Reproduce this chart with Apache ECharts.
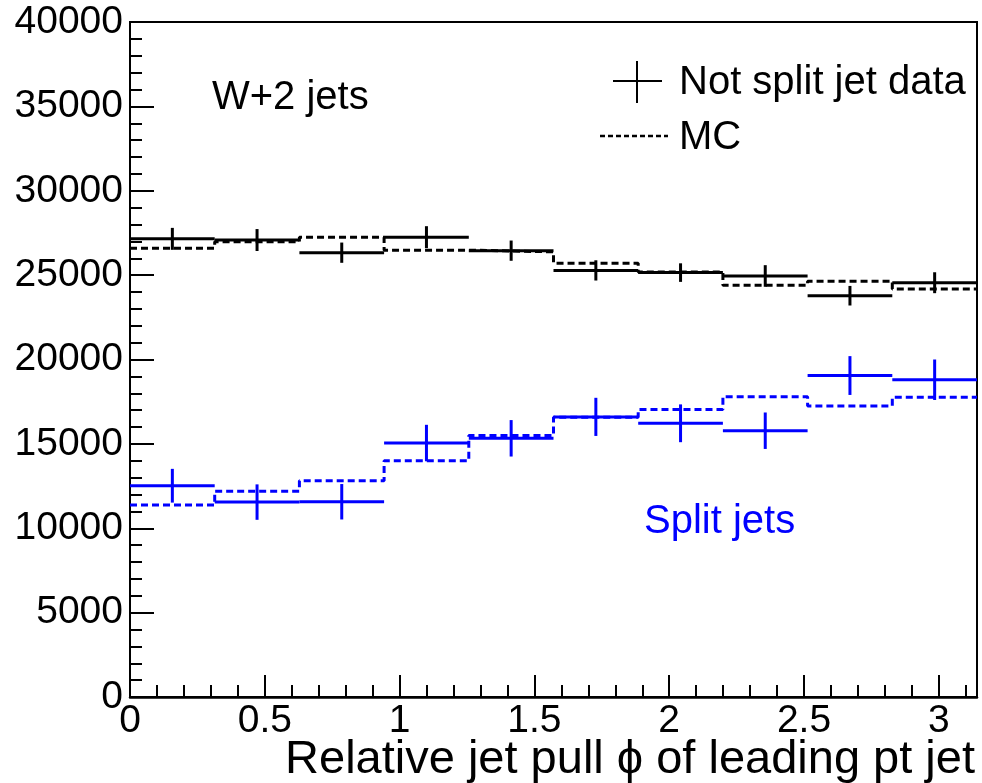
<!DOCTYPE html>
<html>
<head>
<meta charset="utf-8">
<script src="https://cdn.jsdelivr.net/npm/echarts@6/dist/echarts.min.js"></script>
<style>
html,body{margin:0;padding:0;background:#fff;}
#chart{width:982px;height:783px;}
</style>
</head>
<body>
<div id="chart"></div>
<script>
// Bin edges (10 bins over 0..pi)
var binLow  = [0, 0.31416, 0.62832, 0.94248, 1.25664, 1.5708, 1.88496, 2.19911, 2.51327, 2.82743];
var binHigh = [0.31416, 0.62832, 0.94248, 1.25664, 1.5708, 1.88496, 2.19911, 2.51327, 2.82743, 3.14159];

// Not split jets (black)
var notSplitData = [27150, 27080, 26330, 27250, 26450, 25280, 25150, 24950, 23780, 24550];
var notSplitErr  = [650, 650, 600, 650, 600, 600, 550, 640, 580, 620];
var notSplitMC   = [26600, 26980, 27250, 26480, 26380, 25700, 25180, 24400, 24640, 24180];

// Split jets (blue)
var splitData = [12520, 11550, 11570, 15050, 15330, 16600, 16220, 15780, 19050, 18800];
var splitErr  = [1000, 1050, 1050, 1080, 1080, 1130, 1120, 1080, 1150, 1200];
var splitMC   = [11380, 12200, 12820, 14000, 15500, 16580, 17040, 17800, 17250, 17760];

var yTicks = [0, 5000, 10000, 15000, 20000, 25000, 30000, 35000, 40000];

var FONT = 'Liberation Sans';
var FS_TICK = 39;
var FS_TEXT = 40;
var FS_TITLE = 47;

function dataRows(vals, errs) {
  return vals.map(function (v, i) { return [binLow[i], binHigh[i], v, errs[i]]; });
}
function stepRows(vals) {
  var rows = vals.map(function (v, i) { return [binLow[i], v]; });
  rows.push([binHigh[binHigh.length - 1], vals[vals.length - 1]]);
  return rows;
}
function makeRender(color) {
  return function (params, api) {
    var lo = api.value(0), hi = api.value(1), y = api.value(2), e = api.value(3);
    var a = api.coord([lo, y]), b = api.coord([hi, y]);
    var mid = (lo + hi) / 2;
    var t = api.coord([mid, y + e]), d = api.coord([mid, y - e]);
    var st = { stroke: color, lineWidth: 3 };
    return {
      type: 'group',
      children: [
        { type: 'line', shape: { x1: a[0], y1: a[1], x2: b[0], y2: b[1] }, style: st },
        { type: 'line', shape: { x1: t[0], y1: t[1], x2: d[0], y2: d[1] }, style: st }
      ]
    };
  };
}
function txt(str, x, y, size, color, align) {
  return {
    type: 'text', x: x, y: y,
    style: { text: str, fill: color, fontFamily: FONT, fontSize: size, align: align || 'left', verticalAlign: 'middle' }
  };
}

var chart = echarts.init(document.getElementById('chart'), null, { renderer: 'canvas' });
var option = {
  animation: false,
  backgroundColor: '#fff',
  textStyle: { fontFamily: FONT },
  grid: { left: 130, right: 5, top: 22, bottom: 86, show: true, borderColor: '#000', borderWidth: 2, backgroundColor: 'transparent' },
  xAxis: [
    {
      type: 'value', min: 0, max: Math.PI, interval: 0.5, position: 'bottom',
      axisLine: { show: true, onZero: false, lineStyle: { color: '#000', width: 2.5 } },
      axisTick: { show: true, inside: true, length: 22, lineStyle: { color: '#000', width: 2 } },
      axisLabel: { show: true, color: '#000', fontFamily: FONT, fontSize: FS_TICK, margin: 5, showMaxLabel: false,
        formatter: function (v) { return String(v); } },
      splitLine: { show: false }
    },
    {
      type: 'value', min: 0, max: Math.PI, interval: 0.1, position: 'bottom',
      axisLine: { show: false },
      axisTick: { show: true, inside: true, length: 12, lineStyle: { color: '#000', width: 2 } },
      axisLabel: { show: false },
      splitLine: { show: false }
    }
  ],
  yAxis: {
    type: 'value', min: yTicks[0], max: yTicks[yTicks.length - 1], interval: 5000,
    axisLine: { show: true, onZero: false, lineStyle: { color: '#000', width: 2 } },
    axisTick: { show: true, inside: true, length: 24, lineStyle: { color: '#000', width: 2 } },
    minorTick: { show: true, splitNumber: 5, length: 12, lineStyle: { color: '#000', width: 2 } },
    axisLabel: { color: '#000', fontFamily: FONT, fontSize: FS_TICK, margin: 7,
      formatter: function (v) { return String(v); } },
    splitLine: { show: false }
  },
  series: [
    {
      name: 'MC', type: 'line', step: 'end', data: stepRows(notSplitMC), symbol: 'none',
      lineStyle: { color: '#000', width: 3, type: [7, 4] }, z: 2
    },
    {
      name: 'MC split', type: 'line', step: 'end', data: stepRows(splitMC), symbol: 'none',
      lineStyle: { color: '#0000ff', width: 3, type: [7, 4] }, z: 2
    },
    {
      name: 'Not split jet data', type: 'custom', renderItem: makeRender('#000'),
      data: dataRows(notSplitData, notSplitErr), encode: { x: [0, 1], y: 2 }, z: 3
    },
    {
      name: 'Split jets data', type: 'custom', renderItem: makeRender('#0000ff'),
      data: dataRows(splitData, splitErr), encode: { x: [0, 1], y: 2 }, z: 3
    }
  ],
  graphic: [
    // legend: data marker
    { type: 'line', shape: { x1: 613, y1: 81, x2: 662, y2: 81 }, style: { stroke: '#000', lineWidth: 2 } },
    { type: 'line', shape: { x1: 637, y1: 61, x2: 637, y2: 103 }, style: { stroke: '#000', lineWidth: 2 } },
    txt('Not split jet data', 679, 83, FS_TEXT, '#000'),
    // legend: MC
    { type: 'line', shape: { x1: 600, y1: 136, x2: 668, y2: 136 }, style: { stroke: '#000', lineWidth: 2.5, lineDash: [5, 3] } },
    txt('MC', 679, 138, FS_TEXT, '#000'),
    // annotations
    txt('W+2 jets', 212, 98, FS_TEXT, '#000'),
    txt('Split jets', 644, 522, FS_TEXT, '#0000ff'),
    // x-axis title
    txt('Relative jet pull \u03d5 of leading pt jet', 975, 760, FS_TITLE, '#000', 'right')
  ]
};
chart.setOption(option);
</script>
</body>
</html>
